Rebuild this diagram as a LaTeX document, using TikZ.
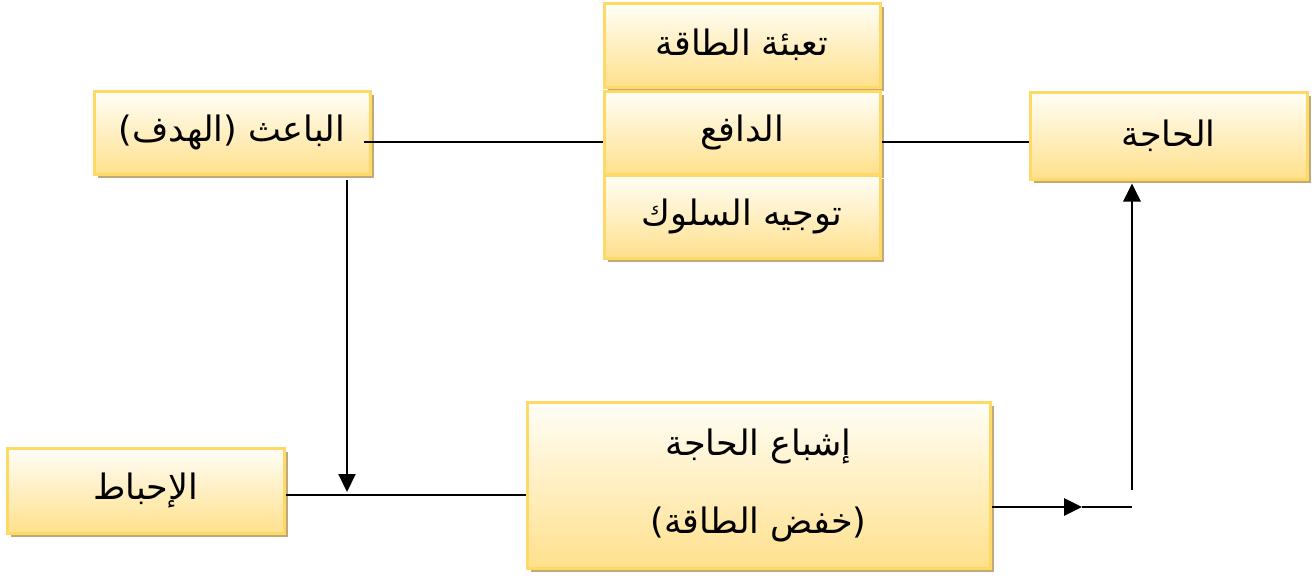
\documentclass[tikz,border=0pt]{standalone}
\usepackage{fontspec}
\newfontfamily\arabicfont[Script=Arabic]{DejaVu Sans}
\TeXXeTstate=1
\usetikzlibrary{arrows.meta,shadows}
\definecolor{boxtop}{HTML}{FFFEF7}
\definecolor{boxbot}{HTML}{FFE08C}
\definecolor{boxline}{HTML}{FFD966}
\definecolor{shadowc}{HTML}{BDAA78}
\tikzset{
  ybox/.style={draw=boxline, line width=1.5pt, top color=boxtop, bottom color=boxbot,
    inner sep=0pt, align=center, font=\arabicfont\fontsize{17.5}{20}\selectfont,
    drop shadow={shadow xshift=2pt, shadow yshift=-2pt, fill=shadowc, opacity=1}},
  conn/.style={line width=1pt, black},
  thick conn/.style={line width=1.4pt, black},
  tip/.style={-{Triangle[length=9pt,width=8.5pt]}}
}
\begin{document}
\begin{tikzpicture}[x=0.5pt,y=-0.5pt]
\useasboundingbox (0,0) rectangle (1314,580);
% nodes
\node[ybox, minimum width=138pt, minimum height=42pt] (tabia) at (742,45) {\beginR تعبئة الطاقة\endR};
\node[ybox, minimum width=138pt, minimum height=41.5pt] (dafi) at (742,132.5) {\beginR الدافع\endR};
\node[ybox, minimum width=138pt, minimum height=41.5pt] (tawjih) at (742,216.5) {\beginR توجيه السلوك\endR};
\node[ybox, minimum width=138pt, minimum height=41.5pt] (baith) at (232,132.5) {\beginR الباعث (الهدف)\endR};
\node[ybox, minimum width=138.5pt, minimum height=43.5pt] (haja) at (1168.5,135.5) {\beginR الحاجة\endR};
\node[ybox, minimum width=138.5pt, minimum height=42.5pt] (ihbat) at (145.5,490.5) {\beginR الإحباط\endR};
\node[ybox, minimum width=231.5pt, minimum height=83pt,
      font=\arabicfont\fontsize{17.5}{39}\selectfont] (ishba) at (758.5,485)
      {\beginR إشباع الحاجة\endR\\\beginR (خفض الطاقة)\endR};
% junction coordinates
\coordinate (j1) at (347,495);
\coordinate (j2) at (1082,507);
\coordinate (j3) at (1132,507);
\coordinate (j4) at (1132,490);
% connectors
\draw[conn] ([xshift=-4pt]baith.east |- 0,142) -- (dafi.west |- 0,142);
\draw[conn] (dafi.east |- 0,142) -- (haja.west |- 0,142);
\draw[conn,tip] ([yshift=-2pt]baith.south -| j1) -- ([yshift=1.5pt]j1);
\draw[conn] (ihbat.east |- j1) -- (ishba.west |- j1);
\draw[thick conn,tip] (ishba.east |- j2) -- (j2);
\draw[conn] (j2) -- (j3);
\draw[thick conn,tip] (j4) -- ([yshift=-1.5pt]haja.south -| j4);
\end{tikzpicture}
\end{document}
